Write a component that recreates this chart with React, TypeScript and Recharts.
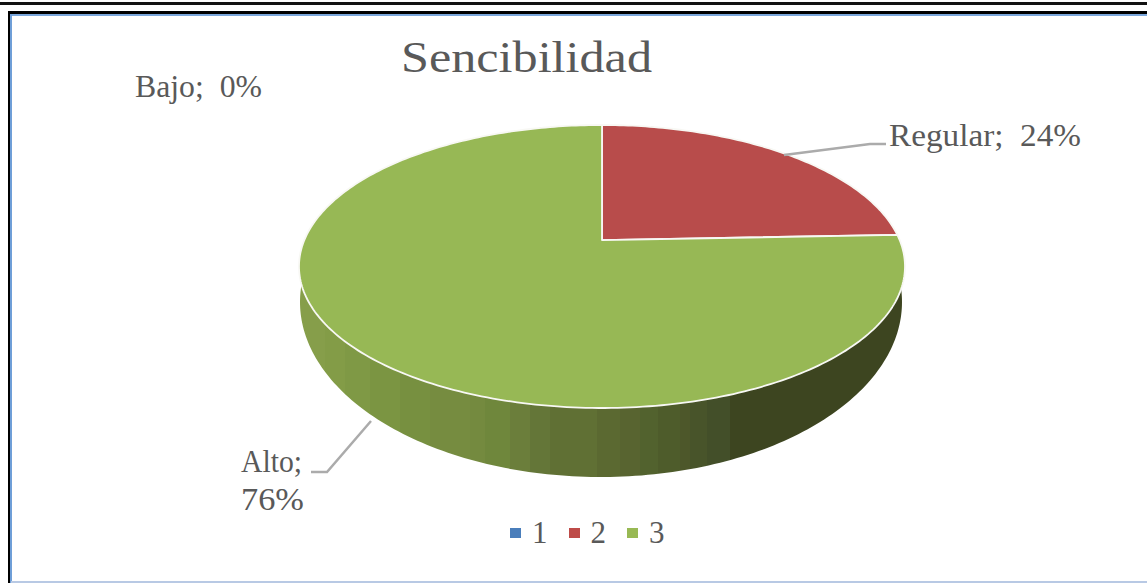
import React from 'react';
import { PieChart, Pie, Cell, Legend } from 'recharts';

const WIDTH = 1147;
const HEIGHT = 583;

const categories = ['Bajo', 'Regular', 'Alto'];
const legendNames = ['1', '2', '3'];
const shares = [0, 24.4, 75.6];
const colors = ['#4a7ebb', '#b84c4b', '#97b855'];
const legendColors = ['#4a7ebb', '#be4b48', '#98b954'];

const data = categories.map((name, i) => ({ name, series: legendNames[i], value: shares[i] }));

const FONT = '"Liberation Serif", serif';
const TEXT_COLOR = '#595959';
const LEADER_COLOR = '#ababab';

// the tilted disc, seen in perspective: k pulls the apex above the ellipse centre
const TOP = { cx: 602, cy: 266.5, rx: 303, ry: 141.5 };
const BASE = { cx: 601, cy: 302, rx: 301, ry: 175 };
const K = 0.187;

// shading of the side wall, bands from left to right: [screen x where the band starts, colour]
const wallBands: [number, string][] = [
  [299, '#869e4a'], [325, '#839c47'], [345, '#7f9945'], [370, '#7b9542'], [400, '#779040'], [430, '#768c40'],
  [470, '#748a3f'], [485, '#6f873c'], [510, '#6b7e3b'], [530, '#647638'], [550, '#607034'], [597, '#5b6931'],
  [620, '#586430'], [640, '#52622e'], [658, '#4e5c2b'], [680, '#4d572a'], [690, '#48542a'], [707, '#434f29'],
  [730, '#3d4520'],
];
const WALL_X0 = 299;
const WALL_X1 = 905;

const project = (e: typeof TOP, angle: number) => {
  const a = (angle * Math.PI) / 180;
  const u = Math.cos(a);
  const v = Math.sin(a);
  const d = 1 + K * v;
  return {
    x: e.cx + (e.rx * u * Math.sqrt(1 - K * K)) / d,
    y: e.cy - (e.ry * (v + K)) / d,
  };
};

const arcPoints = (e: typeof TOP, from: number, to: number) => {
  const steps = Math.max(2, Math.ceil(Math.abs(to - from)));
  const pts = [];
  for (let i = 0; i <= steps; i++) {
    pts.push(project(e, from + ((to - from) * i) / steps));
  }
  return pts;
};

const toPath = (pts: { x: number; y: number }[]) =>
  pts.map((p, i) => `${i === 0 ? 'M' : 'L'}${p.x.toFixed(2)},${p.y.toFixed(2)}`).join(' ') + ' Z';

const TopSlice = (props: any) => {
  const { startAngle, endAngle, fill } = props;
  if (startAngle === endAngle) return <g />;
  const apexPoint = { x: TOP.cx, y: TOP.cy - TOP.ry * K };
  const pts = [apexPoint, ...arcPoints(TOP, startAngle, endAngle)];
  return <path d={toPath(pts)} fill={fill} stroke="#f8f8f4" strokeWidth={1.8} strokeLinejoin="round" />;
};

const WallSlice = (props: any) => {
  const { startAngle, endAngle } = props;
  if (startAngle === endAngle) return <g />;
  const upper = arcPoints(TOP, startAngle, endAngle);
  const lower = arcPoints(BASE, startAngle, endAngle).reverse();
  return <path d={toPath([...upper, ...lower])} fill="url(#wallShade)" />;
};

// label boxes were placed by hand in the original chart
const labelLayout: Record<string, { x: number; lines: [string, number, number][]; leader?: string }> = {
  Bajo: { x: 135, lines: [['Bajo;  {p}', 97, 127]] },
  Regular: { x: 889, lines: [['Regular;  {p}', 146, 192]], leader: '784,155 870,144 886,144' },
  Alto: { x: 241, lines: [['Alto;', 472, 61], ['{p}', 510, 63]], leader: '371,421 327,472 311,472' },
};

const renderLabel = (props: any) => {
  const layout = labelLayout[props.name];
  if (!layout) return null;
  const pct = `${Math.round(props.percent * 100)}%`;
  return (
    <g>
      {layout.leader && <polyline points={layout.leader} fill="none" stroke={LEADER_COLOR} strokeWidth={2.5} />}
      {layout.lines.map(([t, y, len]) => (
        <text
          key={t}
          x={layout.x}
          y={y}
          fontFamily={FONT}
          fontSize={31}
          fill={TEXT_COLOR}
          textLength={len}
          lengthAdjust="spacingAndGlyphs"
          style={{ whiteSpace: 'pre' }}
        >
          {t.replace('{p}', pct)}
        </text>
      ))}
    </g>
  );
};

const LegendRow = () => (
  <div style={{ display: 'flex', fontFamily: FONT, fontSize: 31, color: TEXT_COLOR, lineHeight: '30px' }}>
    {legendNames.map((n, i) => (
      <div key={n} style={{ display: 'flex', alignItems: 'center', width: 58.5 }}>
        <span style={{ width: 11, height: 10, background: legendColors[i], marginRight: 11 }} />
        <span>{n}</span>
      </div>
    ))}
  </div>
);

const App = () => {
  return (
    <div style={{ position: 'absolute', left: 0, top: 0, width: WIDTH, height: HEIGHT, background: '#fff', overflow: 'hidden' }}>
      <div style={{ position: 'absolute', left: 0, right: 0, top: 2, height: 3, background: '#111' }} />
      <div style={{ position: 'absolute', left: 8, top: 11, width: 1139, height: 3, background: '#000' }} />
      <div style={{ position: 'absolute', left: 8, top: 11, width: 2, height: 572, background: '#000' }} />
      <div style={{ position: 'absolute', left: 10, top: 14, right: 0, height: 2, background: '#7ba7dc' }} />
      <div style={{ position: 'absolute', left: 10, top: 14, width: 2, height: 569, background: '#6f9fd8' }} />
      <div style={{ position: 'absolute', left: 11, right: 0, bottom: 0, height: 2, background: '#b8c9e4' }} />
      <div style={{ position: 'absolute', left: 0, top: 0 }}>
        <PieChart width={WIDTH} height={HEIGHT} margin={{ top: 0, right: 0, bottom: 0, left: 0 }}>
          <defs>
            <linearGradient id="wallShade" gradientUnits="userSpaceOnUse" x1={WALL_X0} x2={WALL_X1} y1={0} y2={0}>
              {wallBands.flatMap(([x, c], i) => {
                const next = i + 1 < wallBands.length ? wallBands[i + 1][0] : WALL_X1;
                const span = WALL_X1 - WALL_X0;
                return [
                  <stop key={`${i}a`} offset={(x - WALL_X0) / span} stopColor={c} />,
                  <stop key={`${i}b`} offset={(next - WALL_X0) / span} stopColor={c} />,
                ];
              })}
            </linearGradient>
          </defs>
          <text
            x={401}
            y={72}
            fontFamily={FONT}
            fontSize={45}
            fill={TEXT_COLOR}
            textLength={251}
            lengthAdjust="spacingAndGlyphs"
          >
            Sencibilidad
          </text>
          <Pie
            data={data}
            dataKey="value"
            nameKey="series"
            cx={TOP.cx}
            cy={TOP.cy}
            outerRadius={TOP.rx}
            startAngle={90}
            endAngle={-270}
            stroke="none"
            isAnimationActive={false}
            legendType="none"
            shape={WallSlice}
          />
          <Pie
            data={data}
            dataKey="value"
            nameKey="name"
            cx={TOP.cx}
            cy={TOP.cy}
            outerRadius={TOP.rx}
            startAngle={90}
            endAngle={-270}
            isAnimationActive={false}
            label={renderLabel}
            labelLine={false}
            shape={TopSlice}
          >
            {data.map((d, i) => (
              <Cell key={d.name} fill={colors[i]} />
            ))}
          </Pie>
          <Legend
            content={<LegendRow />}
            wrapperStyle={{ position: 'absolute', left: 510, top: 518, width: 190, height: 32, bottom: 'auto' }}
          />
        </PieChart>
      </div>
    </div>
  );
};

export default App;
